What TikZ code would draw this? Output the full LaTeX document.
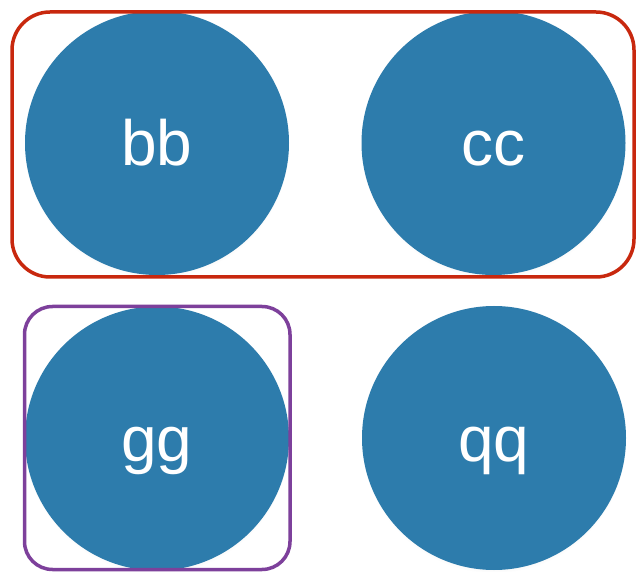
\documentclass[tikz,border=0pt]{standalone}
\usepackage{fontspec}
\setmainfont{Liberation Sans}
\usetikzlibrary{shadows}
\definecolor{ballblue}{RGB}{45,124,172}
\definecolor{boxred}{RGB}{200,40,14}
\definecolor{boxpurple}{RGB}{125,64,155}
\begin{document}
\begin{tikzpicture}[x=1pt,y=-1pt,
  ball/.style={circle, fill=ballblue, draw=none, minimum size=264pt, inner sep=0pt,
    text=white, font=\fontsize{64}{64}\selectfont, text height=46pt, text depth=0pt,
    circular drop shadow={shadow xshift=0pt, shadow yshift=-3pt, opacity=0.18, shadow scale=1.0}},
  groupbox/.style={draw, line width=3.5pt, fill=none, inner sep=0pt}
]
\useasboundingbox (0,0) rectangle (638,572);
\fill[white] (0,0) rectangle (638,572);
\node[ball] (bb) at (157,143) {bb};
\node[ball] (cc) at (493.5,143) {cc};
\node[ball] (gg) at (157,438.5) {gg};
\node[ball] (qq) at (494,438) {qq};
\node[groupbox, draw=boxred, rounded corners=38pt, minimum width=622pt, minimum height=265pt] (grpA) at (323,144.5) {};
\node[groupbox, draw=boxpurple, rounded corners=28pt, minimum width=265.5pt, minimum height=263pt] (grpB) at (157.25,438) {};
\end{tikzpicture}
\end{document}
